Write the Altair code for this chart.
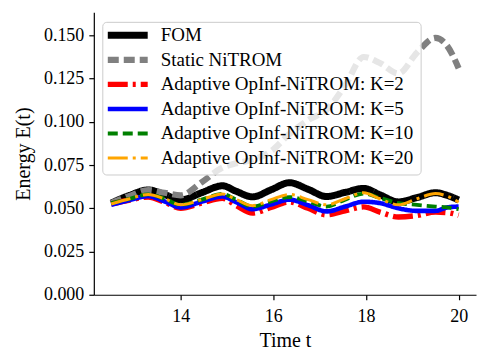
import altair as alt
import pandas as pd

TIME = [12.5, 12.9, 13.3, 13.65, 14.0, 14.45, 14.9, 15.2, 15.55, 15.95, 16.35,
        16.75, 17.15, 17.55, 17.95, 18.3, 18.7, 19.1, 19.5, 19.75, 20.0]

SERIES = ["FOM", "Static NiTROM",
          "Adaptive OpInf-NiTROM: K=2", "Adaptive OpInf-NiTROM: K=5",
          "Adaptive OpInf-NiTROM: K=10", "Adaptive OpInf-NiTROM: K=20"]

FOM = [0.0530, 0.0575, 0.0606, 0.0580, 0.0548, 0.0590, 0.0630, 0.0598, 0.0566, 0.0607, 0.0648,
       0.0610, 0.0568, 0.0592, 0.0615, 0.0578, 0.0537, 0.0562, 0.0590, 0.0575, 0.0548]
STATIC = [0.0530, 0.0572, 0.0605, 0.0590, 0.0575, 0.0650, 0.0735, 0.0760, 0.0780, 0.0830, 0.0930,
          0.1010, 0.1070, 0.1210, 0.1375, 0.1340, 0.1280, 0.1400, 0.1485, 0.1440, 0.1310]
K2 = [0.0525, 0.0548, 0.0565, 0.0535, 0.0500, 0.0530, 0.0558, 0.0515, 0.0472, 0.0505, 0.0537,
      0.0500, 0.0462, 0.0485, 0.0508, 0.0478, 0.0450, 0.0458, 0.0478, 0.0475, 0.0460]
K5 = [0.0520, 0.0548, 0.0570, 0.0540, 0.0505, 0.0538, 0.0568, 0.0535, 0.0495, 0.0522, 0.0550,
      0.0518, 0.0482, 0.0510, 0.0538, 0.0530, 0.0500, 0.0485, 0.0485, 0.0505, 0.0510]
K10 = [0.0530, 0.0555, 0.0580, 0.0555, 0.0520, 0.0550, 0.0583, 0.0550, 0.0510, 0.0540, 0.0565,
       0.0540, 0.0510, 0.0550, 0.0585, 0.0560, 0.0530, 0.0520, 0.0510, 0.0505, 0.0495]
K20 = [0.0525, 0.0555, 0.0580, 0.0555, 0.0520, 0.0550, 0.0583, 0.0550, 0.0515, 0.0550, 0.0580,
       0.0550, 0.0520, 0.0555, 0.0590, 0.0555, 0.0520, 0.0555, 0.0585, 0.0570, 0.0535]

Y_TICKS = [0.0, 0.025, 0.05, 0.075, 0.1, 0.125, 0.15]
X_TICKS = [14, 16, 18, 20]

COLORS = ["#000000", "#808080", "#ff0000", "#0000ff", "#008000", "#ffa500"]
DASHES = [[1, 0], [11, 5], [20, 5, 3, 5], [1, 0], [10, 5], [20, 5, 3, 5]]
WIDTHS = [7, 3, 3, 3, 3, 3]

rows = []
for name, vals in zip(SERIES, [FOM, STATIC, K2, K5, K10, K20]):
    for t, v in zip(TIME, vals):
        rows.append({"t": t, "E": v, "series": name})
df = pd.DataFrame(rows)
leg_df = pd.DataFrame({"series": SERIES, "row": list(range(len(SERIES)))})

FONT = "'Liberation Serif', 'Times New Roman', serif"

color = alt.Color("series:N", scale=alt.Scale(domain=SERIES, range=COLORS), legend=None)
dash = alt.StrokeDash("series:N", scale=alt.Scale(domain=SERIES, range=DASHES), legend=None)
width = alt.StrokeWidth("series:N", scale=alt.Scale(domain=SERIES, range=WIDTHS), legend=None)

lines = alt.Chart(df).mark_line(interpolate="monotone", strokeJoin="round").encode(
    x=alt.X("t:Q", scale=alt.Scale(domain=[12.125, 20.375], nice=False, zero=False),
            axis=alt.Axis(values=X_TICKS, title="Time t", format="d",
                          labelPadding=8, titlePadding=5)),
    y=alt.Y("E:Q", scale=alt.Scale(domain=[0, 0.1633], nice=False),
            axis=alt.Axis(values=Y_TICKS, format=".3f", title="Energy E(t)",
                          titlePadding=10)),
    color=color, strokeDash=dash, strokeWidth=width,
)

row_y = alt.Y("row:Q", scale=alt.Scale(domain=[0, 5], range=[23, 146]), axis=None)

leg_box = alt.Chart(pd.DataFrame({"a": [0]})).mark_rect(
    fill="white", fillOpacity=0.8, stroke="#cccccc", strokeWidth=1, cornerRadius=4
).encode(x=alt.value(9), x2=alt.value(328), y=alt.value(10), y2=alt.value(163))

leg_sym = alt.Chart(leg_df).mark_rule(strokeCap="butt").encode(
    x=alt.value(14), x2=alt.value(54), y=row_y,
    color=color, strokeDash=dash, strokeWidth=width,
)

leg_txt = alt.Chart(leg_df).mark_text(
    align="left", baseline="middle", font=FONT, fontSize=19, color="black"
).encode(x=alt.value(67), y=row_y, text="series:N")

chart = alt.layer(lines, leg_box, leg_sym, leg_txt).resolve_scale(
    y="independent"
).properties(
    width=383, height=283,
    padding={"top": 4, "left": 5, "right": 5, "bottom": 0},
).configure_view(stroke=None).configure_axis(
    grid=False, domainColor="black", tickColor="black", labelColor="black",
    titleColor="black", labelFont=FONT, titleFont=FONT, labelFontSize=18,
    titleFontSize=20, titleFontWeight="normal", tickSize=5, labelPadding=5,
    domainWidth=1.2, tickWidth=1.2,
)

chart.save("out.html", embed_options={"renderer": "svg", "actions": False})
